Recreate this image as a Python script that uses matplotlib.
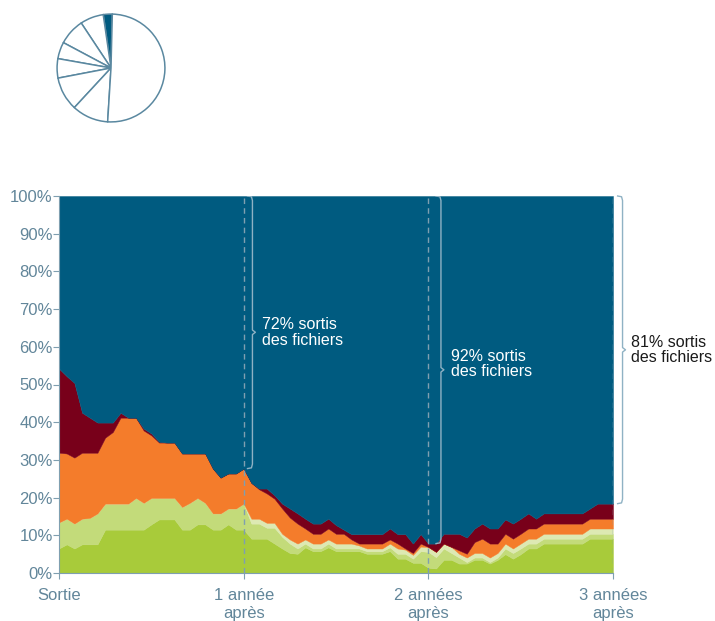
import numpy as np
import matplotlib
matplotlib.use("Agg")
import matplotlib.pyplot as plt

plt.rcParams['font.family'] = ['Liberation Sans Narrow', 'Liberation Sans', 'DejaVu Sans']

# months after exit, one point every half month
months = np.arange(0, 36.5, 0.5)

# cumulative tops of each band (% of people)
green_top = [6.5, 7.6, 6.5, 7.6, 7.6, 7.6, 11.5, 11.5, 11.5, 11.5, 11.5, 11.5, 12.9, 14.2, 14.2, 14.2,
             11.5, 11.5, 12.9, 12.9, 11.5, 11.5, 12.9, 11.5, 11.5,
             9.1, 9.1, 9.1, 7.8, 6.5, 5.3, 5.1, 6.8, 5.8, 5.8, 6.8, 5.8, 5.8, 5.8, 5.8, 5.1,
             5.1, 5.1, 5.8, 3.8, 3.8, 2.7, 2.7, 1.4,
             1.2, 3.5, 3.5, 2.5, 2.5, 3.5, 3.5, 2.5, 3.5, 5.0, 3.8, 5.0, 6.5, 6.5, 7.8, 7.8,
             7.8, 7.8, 7.8, 7.8, 9.1, 9.1, 9.1, 9.1]
lightgreen_top = [13.4, 14.4, 13.1, 14.4, 14.6, 15.8, 18.4, 18.4, 18.4, 18.4, 19.9, 18.6, 19.9, 19.9, 19.9, 19.9,
                  17.5, 18.6, 19.9, 18.6, 15.8, 15.8, 17.1, 17.1, 18.4,
                  13.1, 13.1, 12.0, 12.0, 9.6, 7.8, 6.5, 7.8, 6.5, 6.5, 7.8, 6.5, 6.5, 6.5, 6.5, 5.8,
                  5.8, 5.8, 6.8, 5.1, 5.1, 3.8, 5.8, 5.6,
                  4.2, 6.5, 5.3, 4.1, 2.9, 4.1, 4.1, 2.9, 4.1, 6.5, 5.3, 6.5, 7.8, 7.8, 9.1, 9.1,
                  9.1, 9.1, 9.1, 9.1, 10.4, 10.4, 10.4, 10.4]
pale_top = [13.4, 14.4, 13.1, 14.4, 14.6, 15.8, 18.4, 18.4, 18.4, 18.4, 19.9, 18.6, 19.9, 19.9, 19.9, 19.9,
            17.5, 18.6, 19.9, 18.6, 15.8, 15.8, 17.1, 17.1, 18.4,
            14.4, 14.4, 13.3, 13.3, 10.4, 8.9, 7.8, 8.9, 7.8, 7.8, 8.9, 7.8, 7.8, 7.8, 7.3, 6.5,
            6.5, 6.5, 7.8, 6.5, 6.2, 4.8, 7.0, 6.9,
            5.6, 7.8, 6.9, 5.1, 4.1, 5.3, 5.3, 4.1, 5.3, 7.8, 6.5, 7.8, 9.1, 9.1, 10.4, 10.4,
            10.4, 10.4, 10.4, 10.4, 11.8, 11.8, 11.8, 11.8]
orange_top = [31.9, 31.7, 30.6, 31.9, 31.9, 31.9, 35.9, 37.4, 41.2, 41.2, 41.2, 37.8, 36.5, 34.6, 34.6, 34.6,
              31.7, 31.7, 31.7, 31.7, 27.7, 25.3, 26.4, 26.4, 27.7,
              23.9, 22.2, 21.1, 19.7, 17.1, 14.7, 13.1, 11.8, 10.4, 10.4, 11.8, 10.4, 10.4, 8.9, 7.8, 7.8,
              7.8, 7.8, 8.9, 7.8, 6.5, 5.3, 7.8, 6.9,
              5.6, 7.8, 6.9, 6.0, 5.1, 8.2, 9.1, 7.8, 7.8, 10.4, 9.1, 10.4, 11.8, 11.8, 13.1, 13.1,
              13.1, 13.1, 13.1, 13.1, 14.4, 14.4, 14.4, 14.4]
darkred_top = [54.2, 52.2, 50.4, 42.5, 41.2, 39.9, 39.9, 39.9, 42.5, 41.2, 41.2, 38.3, 37.0, 34.8, 34.6, 34.6,
               31.7, 31.7, 31.7, 31.7, 27.7, 25.3, 26.4, 26.4, 27.7,
               23.9, 22.4, 22.4, 20.6, 18.4, 17.1, 15.8, 14.4, 13.1, 13.1, 14.4, 12.7, 11.5, 10.3, 10.3, 10.3,
               10.3, 10.3, 11.8, 10.3, 10.3, 7.8, 10.3, 7.8,
               7.8, 10.4, 10.4, 10.4, 9.4, 11.8, 13.1, 11.8, 11.8, 14.2, 13.1, 14.4, 15.8, 14.4, 15.8, 15.8,
               15.8, 15.8, 15.8, 15.8, 17.1, 18.4, 18.4, 18.4]

# small pie in the corner (%)
pie_values = [2.7, 7.0, 7.9, 5.0, 5.8, 10.1, 10.9, 50.6]

x_ticks = [0, 12, 24, 36]
x_labels = ["Sortie", "1 année\naprès", "2 années\naprès", "3 années\naprès"]
notes = ["72% sortis\ndes fichiers", "92% sortis\ndes fichiers", "81% sortis\ndes fichiers"]

BLUE = '#005b80'
RED = '#78001a'
ORANGE = '#f47c2b'
PALE = '#dde9b3'
LGREEN = '#c3db7a'
GREEN = '#a8cb3a'
AXIS = '#7f9fb0'
TXT = '#62869a'

fig = plt.figure(figsize=(7.15, 6.21), dpi=100)
ax = fig.add_axes([59 / 715, 48 / 621, 554 / 715, 377 / 621])

zero = np.zeros(len(months))
layers = [(zero, green_top, GREEN), (green_top, lightgreen_top, LGREEN),
          (lightgreen_top, pale_top, PALE), (pale_top, orange_top, ORANGE),
          (orange_top, darkred_top, RED), (darkred_top, np.full(len(months), 100.0), BLUE)]
for lo, hi, c in layers:
    ax.fill_between(months, lo, hi, facecolor=c, edgecolor=c, linewidth=0.3)

for xv in x_ticks[1:]:
    ax.plot([xv, xv], [0, 100], color=AXIS, lw=1, ls=(0, (4, 3)))

ax.set_xlim(0, 36)
ax.set_ylim(0, 100)
ax.set_yticks(range(0, 101, 10))
ax.set_yticklabels(["%d%%" % v for v in range(0, 101, 10)])
ax.set_xticks(x_ticks)
ax.set_xticklabels(x_labels)
ax.tick_params(axis='y', colors=AXIS, labelcolor=TXT, labelsize=12, length=4, pad=0.5)
ax.tick_params(axis='x', colors=AXIS, labelcolor=TXT, labelsize=12, length=4, pad=7)
for s in ['top', 'right']:
    ax.spines[s].set_visible(False)
for s in ['left', 'bottom']:
    ax.spines[s].set_color(AXIS)


def brace(x, y0, y1, w, color, clip=True):
    # curly brace "}" from y0 to y1, tip pointing right
    ym = (y0 + y1) / 2
    d = 1.2
    xs = [x, x + w * 0.8, x + w, x + w, x + w * 1.6, x + w, x + w, x + w * 0.8, x]
    ys = [y1, y1 - 0.2, y1 - d, ym + 0.6, ym, ym - 0.6, y0 + d, y0 + 0.2, y0]
    ax.plot(xs, ys, color=color, lw=1, clip_on=clip, solid_joinstyle='round')


brace(12.25, darkred_top[24], 100, 0.32, '#8fb2c4')
brace(24.5, darkred_top[48], 100, 0.32, '#8fb2c4')
brace(36.3, darkred_top[72], 100, 0.32, '#8fb2c4', clip=False)

ax.text(13.2, (darkred_top[24] + 100) / 2, notes[0], color='white', fontsize=11.5, va='center', ha='left',
        linespacing=1.05)
ax.text(25.5, (darkred_top[48] + 100) / 2 + 1.5, notes[1], color='white', fontsize=11.5, va='center', ha='left',
        linespacing=1.05)
ax.text(37.2, (darkred_top[72] + 100) / 2, notes[2], color='#1a1a1a', fontsize=11.5, va='center', ha='left',
        linespacing=1.05, clip_on=False)

# pie
pax = fig.add_axes([56 / 715, (621 - 123) / 621, 110 / 715, 110 / 621])
wedges, _ = pax.pie(pie_values, startangle=88.6, counterclock=True,
                    colors=[BLUE] + ['white'] * 7,
                    wedgeprops=dict(edgecolor='#5a88a0', linewidth=1.1))
pax.set_aspect('equal')
pax.set_xlim(-1.02, 1.02)
pax.set_ylim(-1.02, 1.02)

fig.savefig('out.png', dpi=100)
